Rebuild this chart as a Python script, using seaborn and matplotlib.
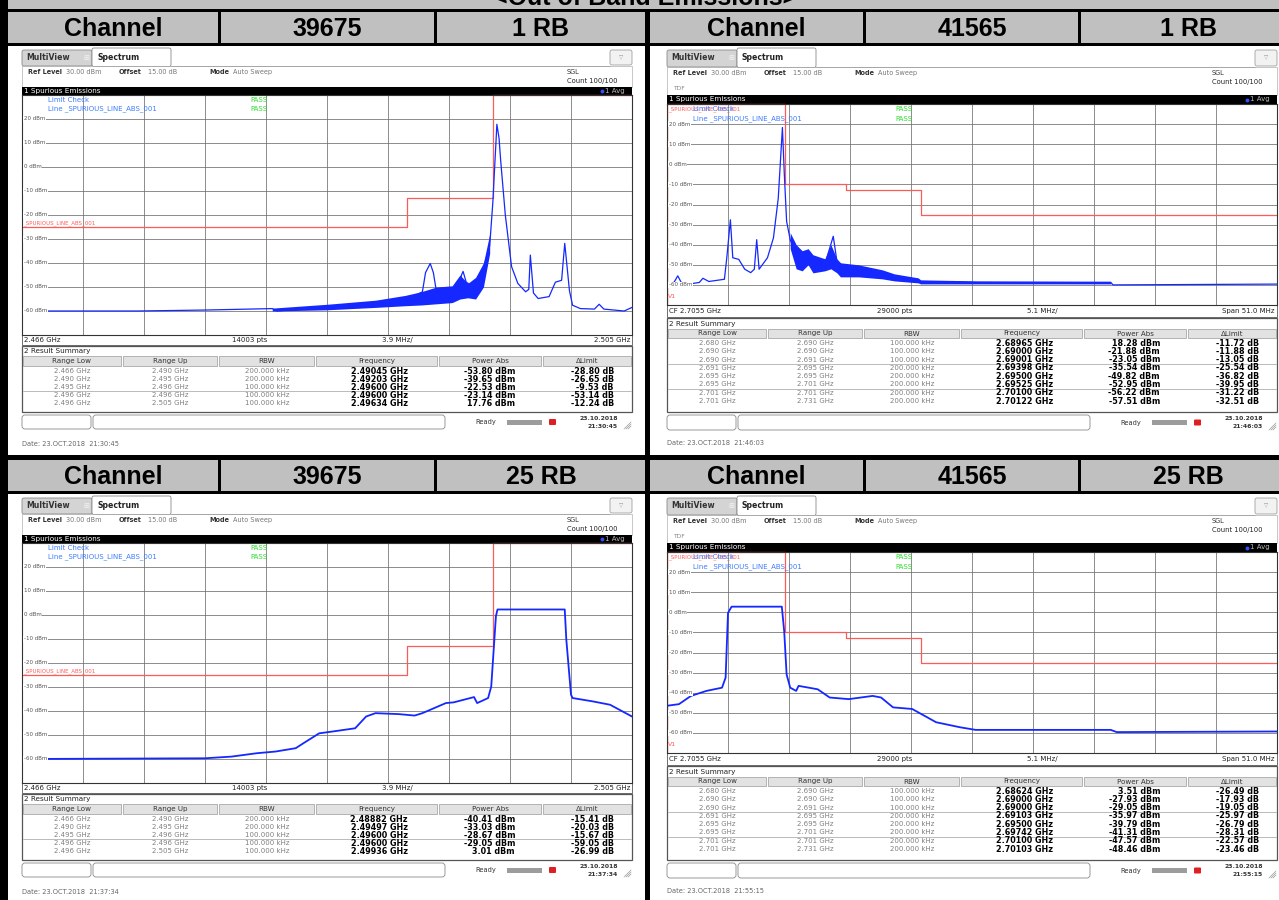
import numpy as np
import seaborn as sns
import matplotlib
matplotlib.use("Agg")
from matplotlib import pyplot as plt
import matplotlib.patches as patches
import matplotlib.transforms as mtrans

sns.set_style("white")
plt.rcParams["font.family"] = ["DejaVu Sans"]

W, H = 1279, 900

# ---------------- data ----------------
page_title = "<Out of Band Emissions>"
tl_header = ["Channel", "39675", "1 RB"]
tr_header = ["Channel", "41565", "1 RB"]
bl_header = ["Channel", "39675", "25 RB"]
br_header = ["Channel", "41565", "25 RB"]

low_span = (2.466, 2.505)
high_span = (2.680, 2.731)
low_footer = ["2.466 GHz", "14003 pts", "3.9 MHz/", "2.505 GHz"]
high_footer = ["CF 2.7055 GHz", "29000 pts", "5.1 MHz/", "Span 51.0 MHz"]

# limit lines (GHz, dBm)
low_limit_f = [2.466, 2.4906, 2.4906, 2.4961, 2.4961, 2.505]
low_limit_v = [-25, -25, -13, -13, 30, 30]
high_limit_f = [2.680, 2.6899, 2.6899, 2.695, 2.695, 2.7012, 2.7012, 2.731]
high_limit_v = [30, 30, -10, -10, -13, -13, -25, -25]

# traces
tl_freq = [2.4660, 2.4734, 2.4777, 2.4820, 2.4823, 2.4855, 2.4886, 2.4905, 2.4916,
           2.4918, 2.4921, 2.4923, 2.4925, 2.4939, 2.4941, 2.4942, 2.4944, 2.4949,
           2.4955, 2.4959, 2.4961, 2.4963, 2.49636, 2.4965, 2.4966, 2.4969, 2.4973,
           2.4977, 2.4982, 2.4984, 2.4985, 2.4987, 2.4990, 2.4997, 2.5001, 2.5005,
           2.5007, 2.5010, 2.5012, 2.5017, 2.5026, 2.5029, 2.5032, 2.5045, 2.5050]
tl_dbm = [-60.0, -60.0, -59.6, -59.0, -60.0, -58.3, -57.0, -55.8, -52.0,
          -44.0, -40.2, -44.0, -52.0, -51.0, -45.0, -43.5, -48.0, -50.0,
          -42.0, -33.0, -15.0, 10.0, 17.8, 12.0, 3.0, -20.0, -41.5,
          -48.5, -52.0, -51.0, -36.7, -52.5, -54.8, -54.0, -48.0, -47.2,
          -31.8, -51.5, -57.6, -59.0, -59.2, -57.2, -59.2, -60.0, -58.5]
tl_band_freq = [2.4820, 2.4855, 2.4886, 2.4905, 2.4915, 2.4925, 2.4935, 2.4940,
                2.4945, 2.4950, 2.4955, 2.4959]
tl_band_lo = [-60.0, -59.5, -58.5, -57.8, -57.5, -57.0, -56.5, -55.0, -54.5, -55.0, -50.0, -36.0]
tl_band_hi = [-58.8, -57.2, -55.5, -53.5, -52.0, -50.0, -49.5, -45.0, -48.5, -46.0, -40.0, -28.0]

tr_freq = [2.6800, 2.6805, 2.6809, 2.6813, 2.6827, 2.6830, 2.6835, 2.6848, 2.6850,
           2.6853, 2.6855, 2.6860, 2.6865, 2.6870, 2.6873, 2.6875, 2.6877, 2.6884,
           2.6889, 2.6893, 2.68965, 2.6898, 2.6900, 2.6903, 2.6908, 2.6913, 2.6918,
           2.6921, 2.6932, 2.6939, 2.6942, 2.6952, 2.6982, 2.6984, 2.6989, 2.7009,
           2.7012, 2.7058, 2.7171, 2.7173, 2.7310]
tr_dbm = [-60.8, -59.6, -55.5, -60.0, -58.8, -56.7, -58.3, -57.2, -46.5,
          -27.6, -46.5, -47.3, -52.2, -53.9, -52.2, -37.5, -52.2, -46.5,
          -36.6, -17.0, 18.3, -3.8, -28.4, -37.5, -44.9, -48.0, -43.2,
          -48.0, -49.8, -35.8, -48.0, -53.0, -55.0, -54.4, -56.4, -57.2,
          -58.3, -58.8, -58.8, -60.0, -59.6]
tr_band_freq = [2.6903, 2.6908, 2.6913, 2.6918, 2.6922, 2.6932, 2.6937, 2.6942,
                2.6945, 2.6960, 2.6980, 2.6990, 2.7010, 2.7012, 2.7060, 2.7171]
tr_band_lo = [-42, -52, -53, -50, -54, -53, -52, -54, -56, -56, -57, -58, -59, -59.5, -59.5, -59.5]
tr_band_hi = [-34, -40, -43, -42, -45, -47, -40, -47, -49, -50, -52.5, -54.5, -56.5, -57.5, -58, -58.2]

bl_freq = [2.4660, 2.4777, 2.4794, 2.4810, 2.4822, 2.4835, 2.4840, 2.4850, 2.4858,
           2.4873, 2.4880, 2.4886, 2.4901, 2.4911, 2.4916, 2.4921, 2.4931, 2.4936,
           2.4949, 2.4951, 2.4958, 2.4960, 2.4963, 2.4964, 2.4987, 2.5007, 2.5008,
           2.5011, 2.5012, 2.5025, 2.5036, 2.5042, 2.5050]
bl_dbm = [-60.0, -59.7, -59.0, -57.6, -56.9, -55.5, -53.4, -49.3, -48.6,
          -47.2, -42.3, -40.9, -41.3, -41.9, -40.9, -39.5, -36.7, -36.4,
          -34.2, -36.7, -34.6, -29.8, -0.5, 2.3, 2.3, 2.3, -10.2,
          -33.2, -34.6, -36.0, -37.4, -39.5, -42.3]

br_freq = [2.6800, 2.6810, 2.6820, 2.6833, 2.6846, 2.6849, 2.6851, 2.6854, 2.6876,
           2.6896, 2.6898, 2.6900, 2.6903, 2.6908, 2.6910, 2.6926, 2.6936, 2.6952,
           2.6972, 2.6979, 2.6989, 2.7005, 2.7025, 2.7045, 2.7058, 2.7171, 2.7176,
           2.7310]
br_dbm = [-46.5, -45.7, -41.6, -39.1, -37.5, -32.5, -0.3, 2.8, 2.8,
          2.8, -9.6, -30.9, -37.5, -39.1, -36.6, -38.3, -42.4, -43.2,
          -41.6, -42.4, -47.3, -48.1, -54.7, -57.2, -58.5, -58.5, -59.6,
          -59.3]

# result summary tables
low_range_low = ["2.466 GHz", "2.490 GHz", "2.495 GHz", "2.496 GHz", "2.496 GHz"]
low_range_up = ["2.490 GHz", "2.495 GHz", "2.496 GHz", "2.496 GHz", "2.505 GHz"]
low_rbw = ["200.000 kHz", "200.000 kHz", "100.000 kHz", "100.000 kHz", "100.000 kHz"]
high_range_low = ["2.680 GHz", "2.690 GHz", "2.690 GHz", "2.691 GHz",
                  "2.695 GHz", "2.695 GHz", "2.701 GHz", "2.701 GHz"]
high_range_up = ["2.690 GHz", "2.690 GHz", "2.691 GHz", "2.695 GHz",
                 "2.695 GHz", "2.701 GHz", "2.701 GHz", "2.731 GHz"]
high_rbw = ["100.000 kHz"] * 3 + ["200.000 kHz"] * 5

tl_peak_freq = [2.49045, 2.49203, 2.49600, 2.49600, 2.49634]
tl_peak_power = [-53.80, -39.65, -22.53, -23.14, 17.76]
tl_delta = [-28.80, -26.65, -9.53, -53.14, -12.24]
tr_peak_freq = [2.68965, 2.69000, 2.69001, 2.69398, 2.69500, 2.69525, 2.70100, 2.70122]
tr_peak_power = [18.28, -21.88, -23.05, -35.54, -49.82, -52.95, -56.22, -57.51]
tr_delta = [-11.72, -11.88, -13.05, -25.54, -36.82, -39.95, -31.22, -32.51]
bl_peak_freq = [2.48882, 2.49497, 2.49600, 2.49600, 2.49936]
bl_peak_power = [-40.41, -33.03, -28.67, -29.05, 3.01]
bl_delta = [-15.41, -20.03, -15.67, -59.05, -26.99]
br_peak_freq = [2.68624, 2.69000, 2.69000, 2.69103, 2.69500, 2.69742, 2.70100, 2.70103]
br_peak_power = [3.51, -27.93, -29.05, -35.97, -39.79, -41.31, -47.57, -48.46]
br_delta = [-26.49, -17.93, -19.05, -25.97, -26.79, -28.31, -22.57, -23.46]

tl_time, tr_time, bl_time, br_time = "21:30:45", "21:46:03", "21:37:34", "21:55:15"
date_str = "23.10.2018"
date_long = "23.OCT.2018"

# ---------------- figure ----------------
GRAY = "#c0c0c0"
BLUE = "#1428ff"
RED = "#ff5a5a"
TXT_BLUE = "#3d7cff"
PASS_GREEN = "#2edc2e"

fig = plt.figure(figsize=(W / 100, H / 100), dpi=100, facecolor="black")
bg = fig.add_axes([0, 0, 1, 1])
bg.set_xlim(0, W)
bg.set_ylim(H, 0)
bg.axis("off")
bg.set_facecolor("black")


def rect(x0, y0, x1, y1, fc, ec=None, lw=0.0, rounded=None):
    if rounded:
        p = patches.FancyBboxPatch((x0, y0), x1 - x0, y1 - y0,
                                   boxstyle=f"round,pad=0,rounding_size={rounded}",
                                   facecolor=fc, edgecolor=ec or fc, linewidth=lw)
    else:
        p = patches.Rectangle((x0, y0), x1 - x0, y1 - y0, facecolor=fc,
                              edgecolor=ec or fc, linewidth=lw)
    bg.add_patch(p)


def txt(x, y, s, size=5.0, color="#222222", **kw):
    kw.setdefault("va", "center")
    bg.text(x, y, s, fontsize=size, color=color, **kw)


# page frame
rect(8, 0, 1279, 9, GRAY)
txt(645, -2, page_title, size=18, color="black", ha="center",
    fontweight="bold", family=["Liberation Sans", "DejaVu Sans"])

left_cells = [(8, 218), (221, 434), (437, 645)]
right_cells = [(650, 863), (866, 1078), (1081, 1295)]


def header_row(y0, y1, cells, labels):
    for (x0, x1), lab in zip(cells, labels):
        rect(x0, y0, x1, y1, GRAY)
        txt((x0 + x1) / 2, (y0 + y1) / 2 + 1, lab, size=18, color="black",
            ha="center", fontweight="bold", family=["Liberation Sans", "DejaVu Sans"])


header_row(12, 43, left_cells, tl_header)
header_row(12, 43, right_cells, tr_header)
header_row(460, 491, left_cells, bl_header)
header_row(460, 491, right_cells, br_header)

rect(8, 46, 645, 455, "white")
rect(650, 46, 1279, 455, "white")
rect(8, 494, 645, 900, "white")
rect(650, 494, 1279, 900, "white")

LEFT_GEO = dict(tab=(48, 66), info=72, count=81, tdf=None, bar=(87, 95),
                plot=(95, 335), foot=(335, 345), box=(346, 412), summ=351,
                head=(356, 366), row0=371, step=8.0, seps=[3],
                status=(415, 429), date=444, redlab=223, lim=(100, 109))
RIGHT_GEO = dict(tab=(48, 67), info=73, count=82, tdf=89, bar=(95, 104),
                 plot=(104, 305), foot=(305, 317), box=(318, 412), summ=324,
                 head=(329, 338), row0=343, step=8.3, seps=[3, 6],
                 status=(415, 430), date=443, redlab=109, lim=(109, 119))

col_edges = [0, 100, 196, 293, 416, 520, 610]
col_names = ["Range Low", "Range Up", "RBW", "Frequency", "Power Abs", "\u0394Limit"]


def spectrum_panel(sx0, sx1, dy, geo, span, footer, limit_f, limit_v,
                   freq, dbm, band, rng_low, rng_up, rbw, pk_f, pk_p, delta,
                   clock, high_band):
    g = geo

    def Y(v):
        return v + dy

    # tabs
    t0, t1 = g["tab"]
    rect(sx0, Y(t0) + 2, sx0 + 70, Y(t1), "#d4d4d4", "#8a8a8a", 0.6, rounded=2)
    txt(sx0 + 4, Y(t0) + 10, "MultiView", size=5.6, fontweight="bold", color="#333333")
    txt(sx0 + 61, Y(t0) + 10, "\u229e", size=5, color="#f4f4f4")
    rect(sx0 + 70, Y(t0), sx0 + 149, Y(t1) + 0.5, "white", "#8a8a8a", 0.6, rounded=2)
    txt(sx0 + 75, Y(t0) + 9, "Spectrum", size=5.6, fontweight="bold", color="#222222")
    rect(sx1 - 22, Y(t0) + 2, sx1, Y(t1) - 1, "#f2f2f2", "#a0a0a0", 0.6, rounded=2)
    txt(sx1 - 11, Y(t0) + 10, "\u25bd", size=4, color="#999999", ha="center")
    bg.plot([sx0 + 149, sx1 - 22], [Y(t1), Y(t1)], color="#9a9a9a", lw=0.5)
    rect(sx0, Y(t1), sx1, Y(g["bar"][0]), "none", "#b0b0b0", 0.5)

    # info lines
    iy = Y(g["info"])
    txt(sx0 + 6, iy, "Ref Level", size=4.7, fontweight="bold", color="#333333")
    txt(sx0 + 44, iy, "30.00 dBm", size=4.7, color="#777777")
    txt(sx0 + 97, iy, "Offset", size=4.7, fontweight="bold", color="#333333")
    txt(sx0 + 126, iy, "15.00 dB", size=4.7, color="#777777")
    txt(sx0 + 187, iy, "Mode", size=4.7, fontweight="bold", color="#333333")
    txt(sx0 + 211, iy, "Auto Sweep", size=4.7, color="#777777")
    txt(sx1 - 65, iy, "SGL", size=4.7, color="#333333")
    txt(sx1 - 65, Y(g["count"]), "Count 100/100", size=4.9, color="#222222")
    if g["tdf"]:
        txt(sx0 + 6, Y(g["tdf"]), "TDF", size=4.3, color="#888888")

    # title bar
    b0, b1 = g["bar"]
    rect(sx0, Y(b0), sx1, Y(b1), "black")
    txt(sx0 + 2, (Y(b0) + Y(b1)) / 2, "1 Spurious Emissions", size=5.2, color="white")
    bg.plot([sx1 - 30], [(Y(b0) + Y(b1)) / 2], marker="o", ms=1.8, color="#3050ff")
    txt(sx1 - 27, (Y(b0) + Y(b1)) / 2, "1 Avg", size=5, color="#b8b8b8")

    # plot area
    p0, p1 = g["plot"]
    ax = fig.add_axes([sx0 / W, 1 - Y(p1) / H, (sx1 - sx0) / W, (p1 - p0) / H])
    ax.set_facecolor("white")
    ax.set_xlim(*span)
    ax.set_ylim(-70, 30)
    ax.set_xticks(np.linspace(span[0], span[1], 11))
    ax.set_yticks(np.arange(-70, 31, 10))
    ax.tick_params(length=0, labelbottom=False, labelleft=False)
    ax.grid(True, color="#6e6e6e", lw=0.55)
    for sp in ax.spines.values():
        sp.set_color("#333333")
        sp.set_linewidth(0.8)

    sns.lineplot(x=limit_f, y=limit_v, ax=ax, color=RED, linewidth=0.9,
                 estimator=None, sort=False)
    ax.lines[-1].set_clip_on(False)
    if high_band:
        sns.lineplot(x=[span[0], span[0]], y=[-70, 30], ax=ax, color=RED,
                     linewidth=1.0, estimator=None, sort=False)
    if band is not None:
        ax.fill_between(band[0], band[1], band[2], color=BLUE, lw=0)
    sns.lineplot(x=freq, y=dbm, ax=ax, color=BLUE, linewidth=0.9 if band else 1.3,
                 estimator=None, sort=False)
    ax.set(xlabel=None, ylabel=None)

    ytr = mtrans.blended_transform_factory(ax.transAxes, ax.transData)
    for v in range(20, -61, -10):
        ax.text(0.003, v, f"{v} dBm", transform=ytr, fontsize=4.0, color="#555555",
                va="center", bbox=dict(facecolor="white", edgecolor="none", pad=0.3))

    # overlay labels (page pixel coords)
    ax.text(sx0 + 1, Y(g["redlab"]), "_SPURIOUS_LINE_ABS_001", transform=bg.transData,
            fontsize=4.0, color=RED, va="center")
    if high_band:
        ax.text(sx0 + 1, Y(p0) + 192, "V1", transform=bg.transData,
                fontsize=4.5, color=RED, va="center")
    l0, l1 = g["lim"]
    ax.text(sx0 + 26, Y(l0), "Limit Check", transform=bg.transData,
            fontsize=5.0, color=TXT_BLUE, va="center")
    ax.text(sx0 + 26, Y(l1), "Line _SPURIOUS_LINE_ABS_001", transform=bg.transData,
            fontsize=5.0, color=TXT_BLUE, va="center")
    for yy in (l0, l1):
        ax.text(sx0 + 228, Y(yy), "PASS", transform=bg.transData,
                fontsize=5.0, color=PASS_GREEN, va="center")

    # footer row
    f0, f1 = g["foot"]
    rect(sx0, Y(f0), sx1, Y(f1), "white", "#555555", 0.6)
    fy = (Y(f0) + Y(f1)) / 2
    txt(sx0 + 2, fy, footer[0], size=5, color="#222222")
    txt(sx0 + 210, fy, footer[1], size=5, color="#222222")
    txt(sx0 + 360, fy, footer[2], size=5, color="#222222")
    txt(sx1 - 2, fy, footer[3], size=5, color="#222222", ha="right")

    # result summary
    r0, r1 = g["box"]
    rect(sx0, Y(r0), sx1, Y(r1), "white", "#555555", 0.9)
    txt(sx0 + 2, Y(g["summ"]), "2 Result Summary", size=5.2, color="#222222")
    h0, h1 = g["head"]
    for i, name in enumerate(col_names):
        a, b = sx0 + col_edges[i] + 1, sx0 + col_edges[i + 1] - 1
        rect(a, Y(h0), b, Y(h1), "#e2e2e2", "#9a9a9a", 0.5)
        txt((a + b) / 2, (Y(h0) + Y(h1)) / 2, name, size=5.1, color="#333333", ha="center")
    for i in range(len(pk_f)):
        ry = Y(g["row0"] + i * g["step"])
        txt(sx0 + 50, ry, rng_low[i], size=5.0, color="#808080", ha="center")
        txt(sx0 + 148, ry, rng_up[i], size=5.0, color="#808080", ha="center")
        txt(sx0 + 245, ry, rbw[i], size=5.0, color="#808080", ha="center")
        txt(sx0 + 386, ry, f"{pk_f[i]:.5f} GHz", size=5.8, fontweight="bold",
            color="black", ha="right")
        txt(sx0 + 493, ry, f"{pk_p[i]:.2f} dBm", size=5.8, fontweight="bold",
            color="black", ha="right")
        txt(sx0 + 592, ry, f"{delta[i]:.2f} dB", size=5.8, fontweight="bold",
            color="black", ha="right")
    for s in g["seps"]:
        sy = Y(g["row0"] + (s - 0.5) * g["step"])
        bg.plot([sx0 + 1, sx1 - 1], [sy, sy], color="#a0a0a0", lw=0.5)

    # status bar
    s0, s1 = g["status"]
    rect(sx0, Y(s0), sx0 + 69, Y(s1), "white", "#8a8a8a", 0.6, rounded=3)
    rect(sx0 + 71, Y(s0), sx0 + 423, Y(s1), "white", "#8a8a8a", 0.6, rounded=3)
    sy = (Y(s0) + Y(s1)) / 2
    txt(sx0 + 453, sy, "Ready", size=4.8, color="#333333")
    rect(sx0 + 485, sy - 2.5, sx0 + 520, sy + 2.5, "#9c9c9c")
    rect(sx0 + 527, sy - 3, sx0 + 534, sy + 3, "#e02020", rounded=1)
    txt(sx1 - 14, sy - 4, date_str, size=4.4, color="#333333", ha="right", fontweight="bold")
    txt(sx1 - 14, sy + 4, clock, size=4.4, color="#333333", ha="right", fontweight="bold")
    for k in range(3):
        bg.plot([sx1 - 8 + 2 * k, sx1 - 1], [Y(s1), Y(s1) - 7 + 2 * k], color="#999999", lw=0.5)

    txt(sx0, Y(g["date"]), f"Date: {date_long}  {clock}", size=4.8, color="#666666")


spectrum_panel(22, 632, 0, LEFT_GEO, low_span, low_footer, low_limit_f, low_limit_v,
               tl_freq, tl_dbm, (tl_band_freq, tl_band_lo, tl_band_hi),
               low_range_low, low_range_up, low_rbw, tl_peak_freq, tl_peak_power, tl_delta,
               tl_time, False)
spectrum_panel(667, 1277, 0, RIGHT_GEO, high_span, high_footer, high_limit_f, high_limit_v,
               tr_freq, tr_dbm, (tr_band_freq, tr_band_lo, tr_band_hi),
               high_range_low, high_range_up, high_rbw, tr_peak_freq, tr_peak_power, tr_delta,
               tr_time, True)
spectrum_panel(22, 632, 448, LEFT_GEO, low_span, low_footer, low_limit_f, low_limit_v,
               bl_freq, bl_dbm, None,
               low_range_low, low_range_up, low_rbw, bl_peak_freq, bl_peak_power, bl_delta,
               bl_time, False)
spectrum_panel(667, 1277, 448, RIGHT_GEO, high_span, high_footer, high_limit_f, high_limit_v,
               br_freq, br_dbm, None,
               high_range_low, high_range_up, high_rbw, br_peak_freq, br_peak_power, br_delta,
               br_time, True)

fig.savefig("out.png", dpi=100, facecolor="black")
